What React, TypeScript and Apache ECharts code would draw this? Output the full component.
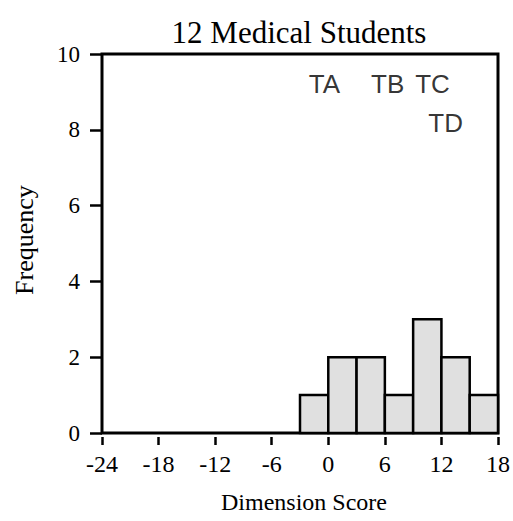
import React, { useEffect, useRef } from "react";
import * as echarts from "echarts";

const binStarts = [-3, 0, 3, 6, 9, 12, 15];
const binEnds = [0, 3, 6, 9, 12, 15, 18];
const counts = [1, 2, 2, 1, 3, 2, 1];
const markerNames = ["TA", "TB", "TC", "TD"];
const markerX = [-0.4, 6.3, 11.05, 12.45];
const markerY = [9.2, 9.2, 9.2, 8.17];

const SERIF = "'Liberation Serif', 'Times New Roman', serif";
const SANS = "'Liberation Sans', Arial, sans-serif";

export default function App() {
  const ref = useRef<HTMLDivElement>(null);
  useEffect(() => {
    if (!ref.current) return;
    const chart = echarts.init(ref.current, undefined, { renderer: "svg" });
    const bins = binStarts.map((s, i) => [s, binEnds[i], counts[i]]);
    const markers = markerNames.map((n, i) => ({ name: n, value: [markerX[i], markerY[i]] }));
    chart.setOption({
      animation: false,
      backgroundColor: "#fff",
      grid: {
        left: 102,
        right: 13,
        top: 54,
        bottom: 88,
        show: true,
        borderColor: "#000",
        borderWidth: 3,
        backgroundColor: "transparent",
      },
      graphic: [
        {
          type: "text",
          x: 299,
          y: 32,
          style: {
            text: "12 Medical Students",
            font: `31px ${SERIF}`,
            fill: "#000",
            align: "center",
            verticalAlign: "middle",
          },
        },
        {
          type: "text",
          x: 304,
          y: 502,
          style: {
            text: "Dimension Score",
            font: `24px ${SERIF}`,
            fill: "#000",
            align: "center",
            verticalAlign: "middle",
          },
        },
        {
          type: "text",
          x: 24,
          y: 240,
          rotation: Math.PI / 2,
          style: {
            text: "Frequency",
            font: `26px ${SERIF}`,
            fill: "#000",
            align: "center",
            verticalAlign: "middle",
          },
        },
      ],
      xAxis: {
        type: "value",
        min: -24,
        max: 18,
        interval: 6,
        offset: 4,
        axisLine: { show: false, onZero: false },
        axisTick: { show: true, length: 8, lineStyle: { color: "#000", width: 2.5 } },
        axisLabel: { color: "#000", fontFamily: SERIF, fontSize: 24, margin: 15 },
        splitLine: { show: false },
      },
      yAxis: {
        type: "value",
        min: 0,
        max: 10,
        interval: 2,
        axisLine: { show: false, onZero: false },
        axisTick: { show: true, length: 12, lineStyle: { color: "#000", width: 2.5 } },
        axisLabel: { color: "#000", fontFamily: SERIF, fontSize: 23, margin: 22 },
        splitLine: { show: false },
      },
      series: [
        {
          type: "custom",
          data: bins,
          encode: { x: [0, 1], y: 2 },
          renderItem: (params: any, api: any) => {
            const p0 = api.coord([api.value(0), api.value(2)]);
            const p1 = api.coord([api.value(1), 0]);
            return {
              type: "rect",
              shape: { x: p0[0], y: p0[1], width: p1[0] - p0[0], height: p1[1] - p0[1] },
              style: { fill: "#e0e0e0", stroke: "#000", lineWidth: 2.5 },
            };
          },
          z: 1,
        },
        {
          type: "scatter",
          data: markers,
          symbolSize: 0,
          label: {
            show: true,
            position: "inside",
            formatter: (p: any) => p.name,
            color: "#000",
            fontFamily: SANS,
            fontSize: 26,
          },
          z: 3,
        },
      ],
    });
    return () => chart.dispose();
  }, []);
  return <div ref={ref} style={{ width: 513, height: 521, position: "absolute", left: 0, top: 0 }} />;
}
